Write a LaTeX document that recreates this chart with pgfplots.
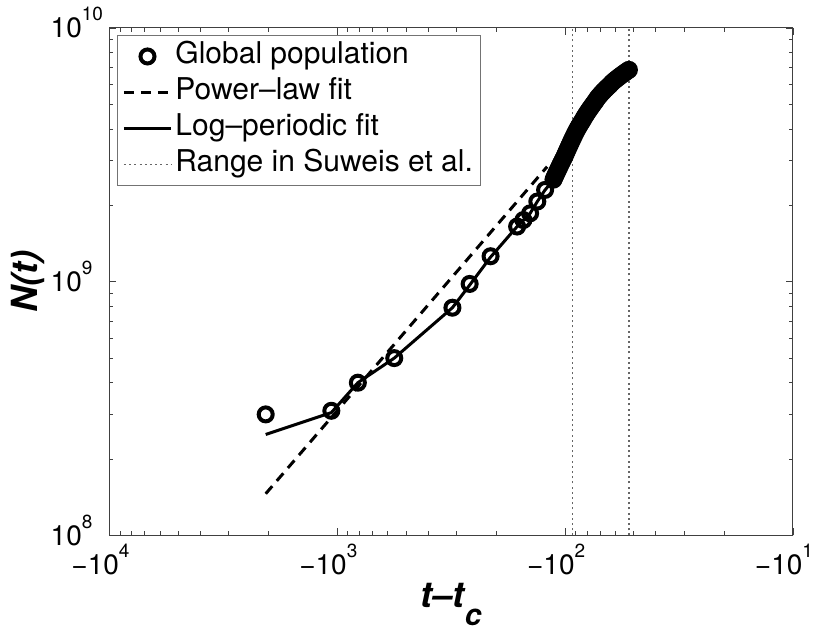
\documentclass[border=0pt]{standalone}
\usepackage{graphicx}
\usepackage{pgfplots}
\pgfplotsset{compat=1.18}
\usepackage{fontspec}
\setmainfont{TeX Gyre Heros}
\newcommand{\xl}[1]{−10\raisebox{8.5pt}[0pt][0pt]{\fontsize{9.5}{9.5}\selectfont #1}}
\newcommand{\yl}[1]{10\rlap{\raisebox{8.5pt}[0pt][0pt]{\fontsize{9.5}{9.5}\selectfont #1}}}
\newcommand{\legtxt}[1]{\scalebox{1.5}{#1}}
\begin{document}
\begin{tikzpicture}
\useasboundingbox (-54.75pt,-52.25pt) rectangle (355.25pt,267.75pt);
\begin{axis}[
  at={(0pt,0pt)}, anchor=south west,
  scale only axis, width=341.75pt, height=253.75pt,
  xmode=log, ymode=log, x dir=reverse,
  xmin=10, xmax=10000, ymin=1e8, ymax=1e10,
  xtick={10,100,1000,10000},
  xticklabels={\xl{1},\xl{2},\xl{3},\xl{4}},
  ytick={1e8,1e9,1e10},
  yticklabels={\yl{8},\yl{9},\yl{10}},
  tick align=inside,
  major tick length=3.5pt, minor tick length=2pt,
  tick style={black!75, line width=0.4pt},
  axis line style={black!75, line width=0.5pt},
  ticklabel style={font=\fontsize{14}{14}\selectfont},
  xticklabel style={yshift=-6pt, xshift=-4.5pt},
  yticklabel style={xshift=-10.3pt},
  xlabel={t–t\raisebox{-9pt}{\fontsize{15}{15}\selectfont c}},
  ylabel={N(t)},
  label style={font=\fontsize{18}{18}\selectfont\bfseries\itshape},
  xlabel style={at={([yshift=-20.25pt]axis description cs:0.5,0)}, anchor=north},
  ylabel style={at={([xshift=-28.75pt]axis description cs:0,0.5)}, anchor=south, rotate=0},
  legend image code/.code={\draw[mark repeat=2,mark phase=2,#1] plot coordinates {(0pt,0pt) (11.75pt,0pt) (23.5pt,0pt)};},
  legend style={at={([xshift=3.75pt,yshift=-3.5pt]axis description cs:0,1)}, anchor=north west,
    draw=black!55, line width=0.5pt, inner xsep=2.5pt, inner ysep=1.5pt,
    nodes={text height=10.5pt, text depth=3.5pt, inner ysep=2pt, inner xsep=1.5pt},
    row sep=0pt, column sep=0pt},
  legend cell align=left,
]
\addplot[only marks, mark=o, mark size=3.5pt, line width=2pt, black] table {
2062.5 3.0e8
1062.5 3.1e8
812.5 4.0e8
562.5 5.0e8
312.5 7.9e8
262.5 9.8e8
212.5 1.26e9
162.5 1.65e9
152.5 1.75e9
142.5 1.86e9
132.5 2.07e9
122.5 2.30e9
112.5 2.525e9
111.5 2.572e9
110.5 2.619e9
109.5 2.665e9
108.5 2.713e9
107.5 2.761e9
106.5 2.810e9
105.5 2.862e9
104.5 2.915e9
103.5 2.963e9
102.5 3.018e9
101.5 3.068e9
100.5 3.126e9
99.5 3.191e9
98.5 3.257e9
97.5 3.324e9
96.5 3.394e9
95.5 3.464e9
94.5 3.535e9
93.5 3.609e9
92.5 3.685e9
91.5 3.762e9
90.5 3.838e9
89.5 3.914e9
88.5 3.989e9
87.5 4.062e9
86.5 4.134e9
85.5 4.206e9
84.5 4.278e9
83.5 4.352e9
82.5 4.440e9
81.5 4.517e9
80.5 4.597e9
79.5 4.677e9
78.5 4.755e9
77.5 4.833e9
76.5 4.913e9
75.5 4.994e9
74.5 5.077e9
73.5 5.159e9
72.5 5.264e9
71.5 5.346e9
70.5 5.427e9
69.5 5.507e9
68.5 5.585e9
67.5 5.663e9
66.5 5.740e9
65.5 5.817e9
64.5 5.893e9
63.5 5.968e9
62.5 6.071e9
61.5 6.148e9
60.5 6.224e9
59.5 6.301e9
58.5 6.377e9
57.5 6.453e9
56.5 6.529e9
55.5 6.606e9
54.5 6.683e9
53.5 6.761e9
52.5 6.840e9
};
\addlegendentry{\legtxt{Global population}}
\addplot[black, line width=1.5pt, dash pattern=on 5pt off 3.5pt] table {
2062.5 1.46e8
120 2.84e9
};
\addlegendentry{\legtxt{Power–law fit}}
\addplot[black, line width=1.5pt] table {
2062.5 2.5e8
1062.5 3.05e8
812.5 4.0e8
562.5 5.0e8
312.5 7.9e8
262.5 9.7e8
212.5 1.25e9
162.5 1.65e9
152.5 1.75e9
142.5 1.86e9
132.5 2.07e9
122.5 2.30e9
112.5 2.52e9
};
\addlegendentry{\legtxt{Log–periodic fit}}
\addplot[black!60, line width=0.8pt, dash pattern=on 1pt off 1.6pt] table {
93 1e8
93 1e10
};
\addlegendentry{\legtxt{Range in Suweis et al.}}
\addplot[black!60, line width=0.8pt, dash pattern=on 1pt off 1.6pt, forget plot] table {
52.5 1e8
52.5 1e10
};
\end{axis}
\end{tikzpicture}
\end{document}
